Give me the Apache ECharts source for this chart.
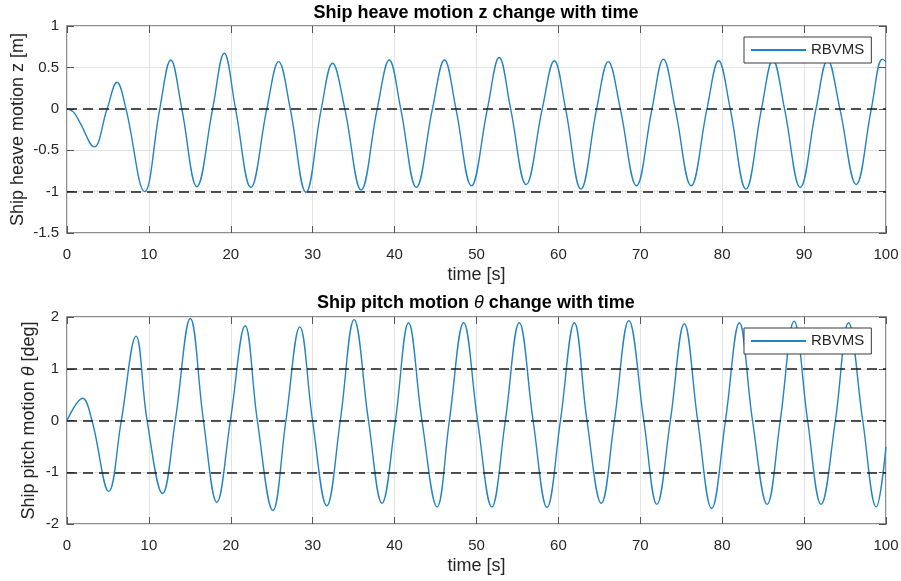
<!DOCTYPE html>
<html>
<head>
<meta charset="utf-8">
<script src="https://cdn.jsdelivr.net/npm/echarts@6/dist/echarts.min.js"></script>
<style>
html,body{margin:0;padding:0;background:#fff;}
#chart{width:901px;height:581px;}
</style>
</head>
<body>
<div id="chart"></div>
<script>
// ---- data ----
const seriesName = 'RBVMS';

const timeHeave = [0, 0.8, 1.6, 3.3, 4.9, 6.1, 7.2, 9.48, 11.33, 12.67, 14.02, 15.86, 17.78, 19.2, 20.58, 22.45, 24.4, 25.84, 27.26, 29.18, 31.05, 32.42, 33.92, 35.91, 37.88, 39.35, 40.75, 42.65, 44.62, 46.09, 47.49, 49.38, 51.33, 52.77, 54.17, 56.06, 58.03, 59.5, 60.88, 62.75, 64.67, 66.09, 67.56, 69.53, 71.43, 72.82, 74.27, 76.21, 78.14, 79.56, 80.98, 82.9, 84.8, 86.19, 87.61, 89.53, 91.45, 92.87, 94.37, 96.36, 98.21, 99.56, 100];
const heave = [0, -0.04, -0.17, -0.46, 0, 0.32, 0, -1.0, 0, 0.59, 0, -0.94, 0, 0.67, 0, -0.95, 0, 0.57, 0, -1.01, 0, 0.55, 0, -0.98, 0, 0.59, 0, -0.95, 0, 0.59, 0, -0.93, 0, 0.62, 0, -0.915, 0, 0.58, 0, -0.97, 0, 0.57, 0, -0.93, 0, 0.60, 0, -0.93, 0, 0.58, 0, -0.97, 0, 0.59, 0, -0.95, 0, 0.59, 0, -0.915, 0, 0.60, 0.57];

const timePitch = [0, 1.9, 3.05, 5.1, 6.63, 8.43, 9.78, 11.67, 13.22, 15.06, 16.66, 18.3, 19.95, 21.75, 23.24, 25.14, 26.73, 28.43, 29.98, 31.72, 33.37, 35.06, 36.81, 38.46, 40.1, 41.7, 43.34, 45.19, 46.69, 48.43, 50.13, 51.87, 53.52, 55.22, 56.91, 58.61, 60.25, 61.95, 63.49, 65.24, 66.84, 68.6, 70.43, 72.02, 73.67, 75.37, 77.01, 78.71, 80.4, 82.1, 83.7, 85.49, 87.09, 88.78, 90.43, 92.07, 93.82, 95.42, 97.16, 98.81, 100];
const pitch = [0, 0.43, 0, -1.37, 0, 1.63, 0, -1.41, 0, 1.97, 0, -1.58, 0, 1.83, 0, -1.74, 0, 1.81, 0, -1.65, 0, 1.95, 0, -1.60, 0, 1.89, 0, -1.67, 0, 1.89, 0, -1.67, 0, 1.89, 0, -1.68, 0, 1.89, 0, -1.60, 0, 1.93, 0, -1.62, 0, 1.87, 0, -1.70, 0, 1.89, 0, -1.62, 0, 1.92, 0, -1.62, 0, 1.89, 0, -1.67, -0.51];

const heaveRefLines = [0, -1];
const pitchRefLines = [1, 0, -1];

const xAxisRange = {min: 0, max: 100, interval: 10};
const heaveAxisRange = {min: -1.5, max: 1, interval: 0.5};
const pitchAxisRange = {min: -2, max: 2, interval: 1};

// ---- styling ----
const FF = "'Liberation Sans', Arial, Helvetica, sans-serif";
const TXT = '#262626';
const LINE = '#2284c4';
const FRAME = '#6a6a6a';
const SPLIT = '#e3e3e3';

function pairs(xs, ys) { return xs.map((x, i) => [x, ys[i]]); }

function xAx(gridIndex, top) {
  return {
    type: 'value', gridIndex, position: top ? 'top' : 'bottom',
    min: xAxisRange.min, max: xAxisRange.max, interval: xAxisRange.interval,
    axisLine: {show: false, onZero: false},
    axisTick: {show: true, inside: true, length: 7, lineStyle: {color: '#555', width: 1}},
    axisLabel: {show: !top, margin: 14, fontSize: 15, color: TXT, fontFamily: FF},
    splitLine: {show: !top, lineStyle: {color: SPLIT, width: 1}},
    name: top ? '' : 'time [s]', nameLocation: 'middle', nameGap: 33, nameMoveOverlap: false,
    nameTextStyle: {fontSize: 18, color: TXT, fontFamily: FF}
  };
}
function yAx(gridIndex, right, range, name, gap, rich) {
  return {
    type: 'value', gridIndex, position: right ? 'right' : 'left',
    min: range.min, max: range.max, interval: range.interval,
    axisLine: {show: false, onZero: false},
    axisTick: {show: true, inside: true, length: 7, lineStyle: {color: '#555', width: 1}},
    axisLabel: {show: !right, margin: 8, fontSize: 15, color: TXT, fontFamily: FF},
    splitLine: {show: !right, lineStyle: {color: SPLIT, width: 1}},
    name: right ? '' : name, nameLocation: 'middle', nameGap: gap || 40, nameMoveOverlap: false,
    nameTextStyle: {fontSize: 18, color: TXT, fontFamily: FF, rich: rich || {}}
  };
}
function refMark(values) {
  return {
    silent: true, animation: false, symbol: ['none', 'none'],
    label: {show: false},
    lineStyle: {color: '#1a1a1a', width: 1.5, type: [10, 6]},
    emphasis: {disabled: true},
    data: values.map(v => ({yAxis: v}))
  };
}
function legendAt(top) {
  return {
    left: 744, top: top, orient: 'horizontal',
    backgroundColor: '#fff', borderColor: '#3a3a3a', borderWidth: 1, borderRadius: 0,
    padding: [5, 7], itemWidth: 55, itemHeight: 2, icon: 'rect',
    textStyle: {fontSize: 15, color: TXT, fontFamily: FF, lineHeight: 16},
    data: [seriesName], selectedMode: false
  };
}

const italicRich = {
  n: {fontSize: 18, color: TXT, fontFamily: FF},
  t: {fontSize: 18, color: TXT, fontFamily: FF, fontStyle: 'italic'}
};

const chart = echarts.init(document.getElementById('chart'), null, {renderer: 'canvas'});
chart.setOption({
  animation: false,
  backgroundColor: '#fff',
  grid: [
    {left: 67, top: 26, right: 15, height: 207, show: true, borderColor: FRAME, borderWidth: 1.5, backgroundColor: '#fff', containLabel: false, outerBoundsMode: 'none'},
    {left: 67, top: 317, right: 15, height: 207, show: true, borderColor: FRAME, borderWidth: 1.5, backgroundColor: '#fff', containLabel: false, outerBoundsMode: 'none'}
  ],
  xAxis: [xAx(0, false), xAx(0, true), xAx(1, false), xAx(1, true)],
  yAxis: [
    yAx(0, false, heaveAxisRange, 'Ship heave motion z [m]', 40),
    yAx(0, true, heaveAxisRange, ''),
    yAx(1, false, pitchAxisRange, '{n|Ship pitch motion }{t|θ}{n| [deg]}', 29, italicRich),
    yAx(1, true, pitchAxisRange, '')
  ],
  legend: [legendAt(37), legendAt(328)],
  graphic: [
    {type: 'text', x: 476, y: 13, silent: true,
     style: {text: 'Ship heave motion z change with time', fill: '#000', align: 'center', verticalAlign: 'middle',
             font: "bold 18px 'Liberation Sans', Arial, sans-serif"}},
    {type: 'text', x: 476, y: 303, silent: true,
     style: {text: '{b|Ship pitch motion }{t|θ}{b| change with time}', fill: '#000', align: 'center', verticalAlign: 'middle',
             rich: {
               b: {fontSize: 18, fontWeight: 'bold', fontFamily: FF, fill: '#000'},
               t: {fontSize: 18, fontStyle: 'italic', fontFamily: FF, fill: '#000'}
             }}}
  ],
  series: [
    {name: seriesName, type: 'line', xAxisIndex: 0, yAxisIndex: 0, data: pairs(timeHeave, heave),
     smooth: 0.4, symbol: 'none', lineStyle: {color: LINE, width: 1.4}, itemStyle: {color: LINE},
     emphasis: {disabled: true}, markLine: refMark(heaveRefLines), z: 3},
    {name: seriesName, type: 'line', xAxisIndex: 2, yAxisIndex: 2, data: pairs(timePitch, pitch),
     smooth: 0.4, symbol: 'none', lineStyle: {color: LINE, width: 1.4}, itemStyle: {color: LINE},
     emphasis: {disabled: true}, markLine: refMark(pitchRefLines), z: 3}
  ]
});
</script>
</body>
</html>
